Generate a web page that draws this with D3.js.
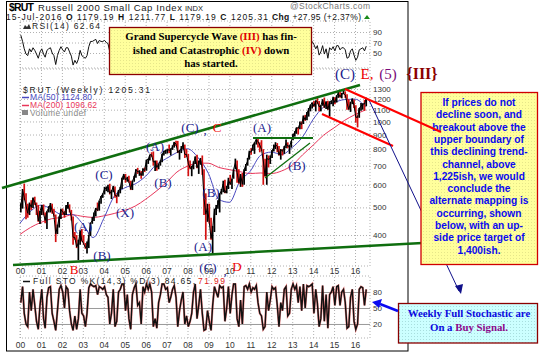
<!DOCTYPE html>
<html>
<head>
<meta charset="utf-8">
<script src="https://cdn.jsdelivr.net/npm/d3@7"></script>
<style>
body { margin: 0; background: #fff; }
svg { display: block; }
</style>
</head>
<body>
<svg id="chart" width="539" height="353"></svg>
<script>
// monthly bars, Jan 2000 .. Jul 2016
const highs = [
  517, 580, 606, 560, 515, 520, 530, 542, 545, 520, 510, 486,
  510, 512, 480, 485, 505, 518, 515, 495, 472, 435, 465, 495,
  495, 485, 510, 522, 512, 490, 465, 410, 400, 385, 415, 420,
  400, 375, 380, 400, 442, 462, 480, 498, 520, 528, 548, 560,
  590, 592, 600, 605, 575, 595, 592, 555, 575, 590, 635, 655,
  655, 640, 645, 620, 620, 645, 680, 688, 675, 670, 685, 690,
  735, 740, 765, 780, 785, 730, 730, 712, 730, 770, 790, 795,
  800, 830, 805, 825, 848, 856, 855, 795, 820, 845, 830, 800,
  770, 730, 700, 725, 755, 765, 730, 745, 760, 680, 560, 515,
  515, 460, 430, 495, 510, 530, 560, 580, 620, 625, 595, 635,
  650, 630, 680, 741, 730, 680, 655, 660, 680, 710, 745, 790,
  805, 830, 845, 866, 870, 845, 860, 800, 740, 765, 760, 760,
  795, 830, 846, 840, 820, 800, 800, 820, 865, 845, 825, 855,
  903, 925, 952, 955, 1000, 1000, 1050, 1055, 1080, 1115, 1145, 1165,
  1180, 1185, 1213, 1180, 1140, 1195, 1213, 1175, 1182, 1175, 1185, 1220,
  1215, 1235, 1270, 1270, 1260, 1296, 1275, 1245, 1195, 1170, 1205, 1195,
  1140, 1050, 1115, 1160, 1155, 1190, 1212
];
const lows = [
  480, 495, 530, 454, 460, 470, 490, 498, 510, 470, 445, 437,
  470, 470, 440, 420, 480, 480, 475, 465, 378, 403, 425, 455,
  470, 460, 470, 495, 480, 450, 370, 385, 360, 327, 370, 380,
  370, 358, 345, 360, 397, 438, 448, 465, 485, 487, 515, 540,
  555, 570, 565, 555, 535, 565, 540, 517, 545, 560, 580, 625,
  610, 615, 610, 575, 575, 615, 635, 655, 645, 630, 645, 665,
  672, 710, 730, 750, 700, 670, 672, 680, 700, 720, 760, 770,
  772, 775, 760, 795, 810, 820, 775, 735, 775, 800, 745, 750,
  643, 680, 643, 680, 710, 685, 655, 705, 650, 470, 385, 445,
  440, 385, 343, 410, 470, 495, 480, 555, 565, 560, 560, 580,
  600, 580, 630, 680, 610, 605, 590, 590, 600, 670, 700, 735,
  765, 790, 770, 830, 810, 780, 790, 600, 640, 600, 690, 710,
  745, 785, 800, 780, 760, 735, 760, 770, 805, 805, 770, 810,
  860, 885, 905, 900, 940, 940, 980, 1005, 1010, 1040, 1085, 1110,
  1125, 1085, 1150, 1085, 1085, 1135, 1115, 1105, 1100, 1040, 1150, 1130,
  1150, 1165, 1210, 1210, 1205, 1245, 1210, 1100, 1100, 1080, 1150, 1115,
  990, 953, 1030, 1090, 1100, 1090, 1130
];
const closes = [
  497, 577, 540, 506, 477, 517, 500, 538, 522, 499, 448, 484,
  509, 475, 450, 485, 497, 513, 486, 468, 404, 428, 462, 489,
  484, 470, 506, 511, 488, 463, 393, 392, 363, 375, 410, 383,
  373, 361, 364, 398, 441, 449, 477, 497, 487, 528, 547, 557,
  580, 585, 590, 560, 570, 591, 551, 546, 573, 583, 633, 652,
  624, 634, 615, 579, 617, 639, 679, 666, 667, 646, 680, 673,
  733, 738, 765, 764, 721, 724, 690, 709, 725, 766, 786, 788,
  800, 792, 800, 814, 847, 833, 777, 792, 805, 828, 767, 766,
  713, 686, 687, 714, 751, 689, 714, 739, 680, 537, 473, 499,
  443, 389, 423, 487, 501, 508, 557, 572, 604, 562, 579, 625,
  602, 628, 679, 717, 662, 610, 651, 602, 677, 704, 727, 783,
  781, 823, 843, 865, 849, 827, 797, 727, 644, 741, 737, 741,
  792, 810, 830, 817, 762, 798, 786, 812, 837, 819, 821, 849,
  902, 911, 951, 947, 984, 977, 1045, 1011, 1073, 1100, 1143, 1164,
  1131, 1183, 1173, 1126, 1134, 1193, 1120, 1174, 1101, 1173, 1173, 1205,
  1165, 1233, 1253, 1220, 1247, 1254, 1238, 1159, 1101, 1162, 1199, 1136,
  1035, 1034, 1114, 1131, 1154, 1151, 1205
];

// moving averages, every half year from Jan 2000
const ma50 = [440, 484, 509, 493, 472, 472, 437, 392, 457, 547, 585, 604, 643, 705, 742, 779, 802,
  748, 657, 533, 521, 616, 670, 761, 781, 766, 811, 883, 1017, 1123, 1165, 1193, 1197, 1125];
const ma200 = [402, 425, 443, 456, 461, 471, 465, 461, 467, 476, 488, 505, 534, 569, 612, 665, 697,
  715, 714, 690, 678, 667, 657, 660, 657, 671, 703, 764, 826, 895, 950, 1008, 1057, 1097];

// RSI(14), monthly
const rsi = [
  84, 72, 58, 48, 45, 58, 52, 60, 55, 48, 40, 52,
  58, 48, 42, 55, 58, 60, 50, 45, 28, 45, 55, 62,
  56, 52, 60, 60, 52, 44, 27, 36, 30, 38, 55, 45,
  42, 40, 45, 62, 72, 72, 74, 76, 68, 74, 72, 72,
  74, 70, 68, 52, 58, 64, 48, 48, 60, 62, 72, 74,
  56, 60, 50, 40, 58, 64, 72, 60, 60, 50, 66, 62,
  72, 68, 72, 66, 44, 50, 44, 56, 60, 70, 72, 68,
  70, 60, 62, 64, 70, 62, 42, 50, 56, 60, 42, 46,
  38, 40, 42, 56, 62, 44, 52, 58, 46, 25, 30, 42,
  38, 30, 44, 60, 62, 60, 68, 66, 68, 52, 56, 64,
  52, 58, 70, 72, 48, 40, 54, 44, 64, 66, 68, 74,
  66, 70, 68, 70, 60, 52, 50, 32, 36, 56, 50, 54,
  64, 64, 64, 56, 44, 56, 52, 60, 62, 52, 54, 62,
  72, 68, 72, 64, 70, 60, 72, 58, 70, 68, 72, 72,
  66, 58, 64, 46, 52, 64, 48, 58, 40, 60, 56, 62,
  54, 64, 64, 56, 60, 60, 56, 40, 42, 54, 58, 46,
  36, 42, 56, 58, 60, 54, 63
];

// Full STO %K, monthly
const stoK = [
  60, 90, 40, 20, 15, 80, 45, 85, 55, 25, 10, 55,
  85, 30, 12, 70, 88, 90, 40, 25, 8, 45, 85, 92,
  80, 50, 90, 85, 45, 20, 8, 35, 10, 30, 85, 40,
  35, 15, 40, 88, 95, 92, 90, 92, 75, 90, 88, 85,
  90, 75, 70, 20, 40, 85, 15, 25, 80, 85, 95, 95,
  45, 75, 30, 10, 75, 88, 95, 55, 60, 20, 90, 80,
  95, 85, 95, 80, 15, 30, 12, 60, 75, 95, 95, 85,
  88, 60, 70, 85, 92, 70, 15, 45, 65, 80, 20, 35,
  15, 25, 40, 80, 95, 30, 55, 85, 40, 8, 10, 45,
  25, 8, 55, 90, 80, 70, 92, 88, 90, 25, 50, 90,
  40, 75, 95, 95, 30, 15, 65, 20, 90, 92, 85, 95,
  80, 88, 85, 92, 60, 40, 35, 10, 15, 80, 45, 65,
  90, 85, 88, 55, 15, 60, 45, 85, 90, 35, 40, 85,
  95, 85, 92, 60, 90, 45, 95, 50, 92, 90, 92, 95,
  40, 85, 60, 15, 30, 92, 25, 75, 12, 75, 80, 90,
  55, 90, 92, 55, 80, 85, 60, 12, 15, 70, 85, 25,
  10, 20, 85, 90, 88, 55, 85
];

const priceTicks = [400, 500, 600, 700, 800, 900, 1000, 1100, 1200, 1300];
const rsiTicks = [90, 70, 50];
const stoTicks = [80, 50, 20];

// wave labels: [text, x, y, colour, size, weight]
const waveLabels = [
  ["(C)", 104, 175, "navy"], ["(A)", 155, 147, "navy"], ["(B)", 163, 183, "navy"],
  ["(X)", 125, 213, "navy"], ["(A)", 83, 227, "navy"], ["(B)", 102, 256, "navy"],
  ["B", 74, 270, "red"], ["(C)", 190, 128, "navy"], [",", 205, 130, "navy"], ["C", 217, 128, "red"],
  ["(B)", 211, 193, "navy"], ["(A)", 203, 247, "navy"], ["(C)", 208, 268, "navy"],
  [",", 225, 271, "navy"], ["D", 237, 267, "red"], ["(A)", 262, 128, "navy"],
  ["(B)", 297, 166, "navy"],
  ["(C)", 345, 74, "navy", 15], ["E,", 367, 74, "red", 15], ["(5)", 388, 74, "purple", 15],
  ["{III}", 422, 74, "darkred", 16, "bold"]
];

const noteLines = ["If prices do not", "decline soon, and", "breakout above the", "upper boundary of",
  "this declining trend-", "channel, above", "1,225ish, we would", "conclude the",
  "alternate mapping is", "occurring, shown", "below, with an up-", "side price target of", "1,400ish."];

const colors = { navy: "#1b1b8c", red: "#ee0000", purple: "#7a0a7a", darkred: "#8b0000" };

const svg = d3.select("#chart");
const defs = svg.append("defs");

const left = 20, right = 370;
const x = d3.scaleTime()
  .domain([new Date(2000, 0, 1), new Date(2016, 0, 1)])
  .range([left, 355]);

const rsiPanel = { top: 21, bottom: 68 };
const pricePanel = { top: 69, bottom: 266 };
const stoPanel = { top: 276, bottom: 338 };

const yRsi = d3.scaleLinear().domain([21.4, 111]).range([rsiPanel.bottom, rsiPanel.top]);
const yPrice = d3.scaleLog().domain([311.6, 1527]).range([pricePanel.bottom, pricePanel.top]);
const ySto = d3.scaleLinear().domain([-6.3, 110]).range([stoPanel.bottom, stoPanel.top]);

const months = closes.map((_, i) => new Date(2000, i, 15));
const halfYears = ma50.map((_, i) => new Date(2000, i * 6, 1));

function dotPattern(id, bg, dot) {
  const p = defs.append("pattern").attr("id", id).attr("width", 3).attr("height", 3)
    .attr("patternUnits", "userSpaceOnUse");
  p.append("rect").attr("width", 3).attr("height", 3).attr("fill", bg);
  p.append("rect").attr("width", 1).attr("height", 1).attr("fill", dot);
}
dotPattern("yel", "#ffff9c", "#e6e68a");
dotPattern("cyan", "#ccffff", "#a8dede");

function drawPanel(p, yScale, ticks, solidTicks) {
  const g = svg.append("g");
  // vertical year grid
  g.append("g")
    .attr("transform", `translate(0,${p.bottom})`)
    .call(d3.axisBottom(x).ticks(d3.timeYear.every(1)).tickSize(-(p.bottom - p.top)).tickFormat(""))
    .call(a => a.select(".domain").remove())
    .call(a => a.selectAll("line").attr("stroke", "#b0b0b0").attr("stroke-dasharray", "1,2"));
  g.append("g")
    .attr("transform", `translate(${right},0)`)
    .call(d3.axisRight(yScale).tickValues(ticks).tickSize(-(right - left)).tickFormat(d => d))
    .call(a => a.select(".domain").remove())
    .call(a => a.selectAll("line")
      .attr("stroke", solidTicks ? "#9a9a9a" : "#b0b0b0")
      .attr("stroke-dasharray", solidTicks ? null : "1,2"))
    .call(a => a.selectAll("text").attr("x", 3).attr("fill", "#333")
      .style("font", "8px 'Liberation Sans', Arial, sans-serif"));
  g.append("rect")
    .attr("x", left).attr("y", p.top).attr("width", right - left).attr("height", p.bottom - p.top)
    .attr("fill", "none").attr("stroke", "#b0b0b0").attr("stroke-dasharray", "1,2");
  return g;
}

function yearLabels(baseline) {
  svg.append("g")
    .attr("transform", `translate(0,${baseline - 3})`)
    .call(d3.axisBottom(x).ticks(d3.timeYear.every(1)).tickSize(0).tickFormat(d3.timeFormat("%y")))
    .call(a => a.select(".domain").remove())
    .call(a => a.selectAll("text").attr("fill", "#333").attr("dy", 0)
      .style("font", "8.5px 'Liberation Sans', Arial, sans-serif"));
}

// ---- frame and header
svg.append("rect").attr("x", 6.5).attr("y", 1.5).attr("width", 401.5).attr("height", 349.5)
  .attr("fill", "#fff").attr("stroke", "#000");

svg.append("text").attr("x", 9).attr("y", 11).attr("font-family", "Liberation Sans, Arial")
  .attr("font-size", 10.5).attr("font-weight", "bold").attr("textLength", 25).text("$RUT");
svg.append("text").attr("x", 38).attr("y", 11).attr("font-family", "Liberation Sans, Arial")
  .attr("font-size", 9.5).attr("fill", "#222").attr("textLength", 144).text("Russell 2000 Small Cap Index");
svg.append("text").attr("x", 185).attr("y", 11).attr("font-family", "Liberation Sans, Arial")
  .attr("font-size", 7.5).attr("fill", "#222").text("INDX");
svg.append("text").attr("x", 290).attr("y", 9).attr("font-family", "Liberation Sans, Arial")
  .attr("font-size", 8.5).attr("fill", "#777").attr("textLength", 80).text("@StockCharts.com");

const ohlc = svg.append("text").attr("x", 6).attr("y", 20).attr("font-family", "Liberation Sans, Arial")
  .attr("font-size", 8.5).attr("fill", "#111").attr("textLength", 262);
[["15-Jul-2016  ", false], ["O", true], [" 1179.19  ", false], ["H", true], [" 1211.77  ", false],
 ["L", true], [" 1179.19  ", false], ["C", true], [" 1205.31", false]]
  .forEach(([t, b]) => ohlc.append("tspan").attr("font-weight", b ? "bold" : null).text(t));
const chg = svg.append("text").attr("x", 272).attr("y", 20).attr("font-family", "Liberation Sans, Arial")
  .attr("font-size", 8.5).attr("fill", "#111").attr("textLength", 89);
chg.append("tspan").attr("font-weight", "bold").text("Chg");
chg.append("tspan").text(" +27.95 (+2.37%)");
svg.append("path").attr("d", "M364,19 L370,19 L367,15 Z").attr("fill", "#1a8a1a");

// ---- RSI panel
drawPanel(rsiPanel, yRsi, rsiTicks, false);
svg.append("path").datum(rsi)
  .attr("fill", "none").attr("stroke", "#111").attr("stroke-width", 1)
  .attr("d", d3.line().x((d, i) => x(months[i])).y(d => yRsi(d)));
svg.append("path").attr("d", "M23,29 L25,25 L27,27 L29,24 L31,29 Z").attr("fill", "#333");
svg.append("text").attr("x", 32).attr("y", 29).attr("font-family", "Liberation Sans, Arial")
  .attr("font-size", 8.5).attr("fill", "#222").attr("textLength", 68).text("RSI(14) 62.64");

// ---- price panel
drawPanel(pricePanel, yPrice, priceTicks, false);
yearLabels(274);

svg.append("path").datum(ma200)
  .attr("fill", "none").attr("stroke", "#e8365a").attr("stroke-width", 1)
  .attr("d", d3.line().curve(d3.curveMonotoneX).x((d, i) => x(halfYears[i])).y(d => yPrice(d)));
svg.append("path").datum(ma50)
  .attr("fill", "none").attr("stroke", "#4848c0").attr("stroke-width", 1)
  .attr("d", d3.line().curve(d3.curveMonotoneX).x((d, i) => x(halfYears[i])).y(d => yPrice(d)));

svg.append("g").selectAll("line").data(closes).join("line")
  .attr("x1", (d, i) => x(months[i])).attr("x2", (d, i) => x(months[i]))
  .attr("y1", (d, i) => yPrice(highs[i])).attr("y2", (d, i) => yPrice(lows[i]))
  .attr("stroke", (d, i) => (i > 0 && d < closes[i - 1]) ? "#d41010" : "#000")
  .attr("stroke-width", 1.7);
svg.append("path").datum(closes)
  .attr("fill", "none").attr("stroke", "#000").attr("stroke-width", 1)
  .attr("d", d3.line().x((d, i) => x(months[i])).y(d => yPrice(d)));

const legend = svg.append("g").attr("font-family", "Liberation Sans, Arial").attr("font-size", 8.5);
legend.append("text").attr("x", 23).attr("y", 93).attr("fill", "#222").attr("textLength", 127)
  .text("$RUT (Weekly) 1205.31");
legend.append("line").attr("x1", 22).attr("x2", 29).attr("y1", 97.5).attr("y2", 97.5).attr("stroke", "#4848c0").attr("stroke-width", 1.5);
legend.append("text").attr("x", 30).attr("y", 100).attr("fill", "#4848c0").attr("textLength", 62)
  .text("MA(50) 1124.80");
legend.append("line").attr("x1", 22).attr("x2", 29).attr("y1", 105.5).attr("y2", 105.5).attr("stroke", "#e8365a").attr("stroke-width", 1.5);
legend.append("text").attr("x", 30).attr("y", 108).attr("fill", "#e8365a").attr("textLength", 67)
  .text("MA(200) 1096.62");
legend.append("rect").attr("x", 22).attr("y", 110).attr("width", 6).attr("height", 5).attr("fill", "#888");
legend.append("text").attr("x", 30).attr("y", 116).attr("fill", "#888").attr("textLength", 56)
  .text("Volume undef");

// ---- STO panel
drawPanel(stoPanel, ySto, stoTicks, true);
yearLabels(348);
const stoLine = d3.line().x((d, i) => x(months[i])).y(d => ySto(d));
svg.append("path").datum(stoK).attr("fill", "none").attr("stroke", "#e02020").attr("stroke-opacity", 0.55)
  .attr("stroke-width", 2.2).attr("d", stoLine);
svg.append("path").datum(stoK).attr("fill", "none").attr("stroke", "#111").attr("stroke-width", 1.4).attr("d", stoLine);
svg.append("line").attr("x1", 23).attr("x2", 30).attr("y1", 281.5).attr("y2", 281.5).attr("stroke", "#111").attr("stroke-width", 1.5);
svg.append("text").attr("x", 33).attr("y", 284).attr("font-family", "Liberation Sans, Arial")
  .attr("font-size", 8.5).attr("fill", "#222").attr("textLength", 162).text("Full STO %K(14,3) %D(3) 84.65,");
svg.append("text").attr("x", 198).attr("y", 284).attr("font-family", "Liberation Sans, Arial")
  .attr("font-size", 8.5).attr("fill", "#e02020").attr("textLength", 27).text("71.99");

// ---- trend lines
function seg(x1, y1, x2, y2, color, w) {
  svg.append("line").attr("x1", x1).attr("y1", y1).attr("x2", x2).attr("y2", y2)
    .attr("stroke", color).attr("stroke-width", w);
}
seg(2, 188, 360, 85, "#0f6e0f", 2.6);
seg(13, 265, 460, 241, "#0f6e0f", 2.6);
seg(253, 138, 313, 138, "#0f6e0f", 2);
seg(265, 178, 310, 143, "#0f6e0f", 1.3);
seg(322, 114, 393, 146, "#ff0000", 2);
seg(369, 100, 459, 291, "#10108a", 1);

// wave labels
svg.append("g").selectAll("text").data(waveLabels).join("text")
  .attr("x", d => d[1]).attr("y", d => d[2] + (d[4] || 13) * 0.33)
  .attr("text-anchor", "middle")
  .attr("font-family", "Liberation Serif, 'Times New Roman', serif")
  .attr("font-size", d => d[4] || 13)
  .attr("font-weight", d => d[5] || null)
  .attr("fill", d => colors[d[3]])
  .text(d => d[0]);

// ---- note boxes
svg.append("rect").attr("x", 109.5).attr("y", 27.5).attr("width", 202).attr("height", 47)
  .attr("fill", "url(#yel)").attr("stroke", "#8b0000").attr("stroke-width", 1.3);
const topNote = svg.append("g").attr("font-family", "Liberation Serif, 'Times New Roman', serif")
  .attr("font-size", 10.8).attr("font-weight", "bold").attr("text-anchor", "middle");
const t1 = topNote.append("text").attr("x", 211).attr("y", 40);
t1.append("tspan").text("Grand Supercycle Wave ");
t1.append("tspan").attr("fill", "#e00000").text("(III)");
t1.append("tspan").text(" has fin-");
const t2 = topNote.append("text").attr("x", 211).attr("y", 54);
t2.append("tspan").text("ished and Catastrophic ");
t2.append("tspan").attr("fill", "#e00000").text("(IV)");
t2.append("tspan").text(" down");
topNote.append("text").attr("x", 211).attr("y", 67).text("has started.");

svg.append("rect").attr("x", 421).attr("y", 92.5).attr("width", 116.5).attr("height", 172)
  .attr("fill", "url(#yel)").attr("stroke", "#d00000").attr("stroke-width", 1.3);
svg.append("g").selectAll("text").data(noteLines).join("text")
  .attr("x", 479).attr("y", (d, i) => 106 + i * 12.3)
  .attr("text-anchor", "middle")
  .attr("font-family", "Liberation Sans, Arial, sans-serif")
  .attr("font-size", 10.2).attr("font-weight", "bold").attr("fill", "#0a0af0")
  .text(d => d);

seg(345, 89, 441, 132, "#ff0000", 2);
svg.append("path").attr("d", "M455,286 L463,284 L461,294 Z").attr("fill", "#10108a");

svg.append("rect").attr("x", 398.5).attr("y", 303.5).attr("width", 139).attr("height", 39.5)
  .attr("fill", "url(#cyan)").attr("stroke", "#8b0000").attr("stroke-width", 1.3);
const stoNote = svg.append("g").attr("font-family", "Liberation Serif, 'Times New Roman', serif")
  .attr("font-size", 10.8).attr("font-weight", "bold").attr("text-anchor", "middle");
stoNote.append("text").attr("x", 469).attr("y", 317).attr("fill", "#0a0ae0").text("Weekly Full Stochastic are");
const s2 = stoNote.append("text").attr("x", 469).attr("y", 331);
s2.append("tspan").attr("fill", "#0a0ae0").text("On a ");
s2.append("tspan").attr("fill", "#8b0a8b").text("Buy Signal.");

seg(398, 311, 380, 304, "#0a0af0", 2.5);
svg.append("path").attr("d", "M372,302 L382,299 L379,308 Z").attr("fill", "#0a0af0");
</script>
</body>
</html>
